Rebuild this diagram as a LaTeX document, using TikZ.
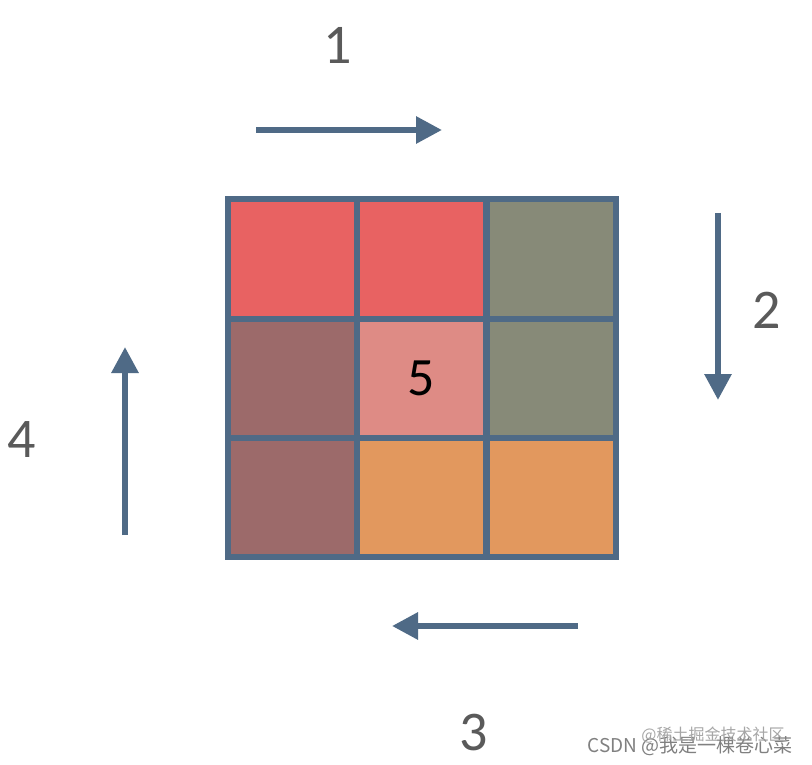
\documentclass[tikz,border=0pt]{standalone}
\usepackage{fontspec}
\setmainfont{Carlito}
\newfontfamily\cjk{Noto Sans CJK SC}
\usetikzlibrary{arrows.meta}

\definecolor{gridline}{HTML}{4F6A86}
\definecolor{cellred}{HTML}{E86262}
\definecolor{cellgreen}{HTML}{878A78}
\definecolor{cellbrown}{HTML}{9C6A6A}
\definecolor{cellpink}{HTML}{DE8B85}
\definecolor{cellorange}{HTML}{E2985E}
\definecolor{labelgray}{HTML}{5A5A5A}

\begin{document}
\begin{tikzpicture}[x=1pt,y=-1pt]
    \useasboundingbox (0,0) rectangle (812,765);
    \fill[white] (0,0) rectangle (812,765);

    \begin{scope} [every node/.style={rectangle,draw=gridline,line width=6pt,
            minimum width=129pt,minimum height=119pt,inner sep=0pt,
            font=\fontsize{54}{60}\selectfont}]
        \foreach \n/\x/\y/\col in {11/292/259/cellred,12/421.5/259/cellred,13/551/259/cellgreen,
                21/292/378/cellbrown,22/421.5/378/cellpink,23/551/378/cellgreen,
                31/292/497.5/cellbrown,32/421.5/497.5/cellorange,33/551/497.5/cellorange}{
            \node[fill=\col] (c\n) at (\x,\y) {};
        }
        \node[draw=none,fill=none] (five) at (c22) {5};
    \end{scope}

    \coordinate (s1) at (256,130);
    \coordinate (e1) at (442,130);
    \coordinate (s2) at (718,213);
    \coordinate (e2) at (718,400);
    \coordinate (s3) at (578,626);
    \coordinate (e3) at (392,626);
    \coordinate (s4) at (125,535);
    \coordinate (e4) at (125,347);

    \begin{scope}[>={Triangle[length=26pt,width=26pt]},
            every path/.style={draw=gridline,line width=6pt}]
        \foreach \i in {1,2,3,4}{
            \draw [->] (s\i) -- (e\i);
        }
    \end{scope}

    \begin{scope}[every node/.style={text=labelgray,font=\fontsize{56}{60}\selectfont}]
        \node (l1) at (338,45) {1};
        \node (l2) at (767,310) {2};
        \node (l3) at (474,733) {3};
        \node (l4) at (22,440) {4};
    \end{scope}

    \node[text=black!50,font=\cjk\fontsize{19}{20}\selectfont] (wm2) at (690,746) {CSDN @我是一棵卷心菜};
    \node[text=black!35,font=\cjk\fontsize{16}{18}\selectfont] (wm1) at (713,735) {@稀土掘金技术社区};
\end{tikzpicture}
\end{document}
